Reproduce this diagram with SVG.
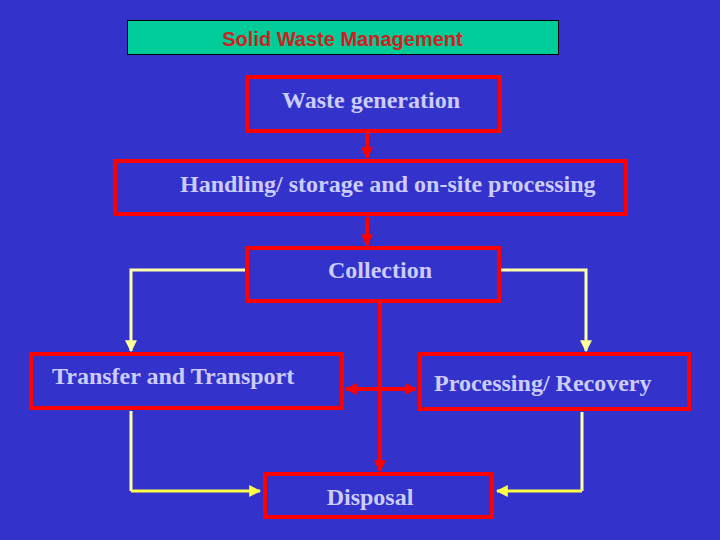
<svg xmlns="http://www.w3.org/2000/svg" width="720" height="540" viewBox="0 0 720 540">
<defs>
<marker id="ar" viewBox="0 0 10 10" refX="9" refY="5" markerWidth="3" markerHeight="3" orient="auto-start-reverse"><path d="M0,0 L10,5 L0,10 z" fill="#FF0000"/></marker>
<marker id="ay" viewBox="0 0 10 10" refX="9" refY="5" markerWidth="4" markerHeight="4" orient="auto"><path d="M0,0 L10,5 L0,10 z" fill="#FFFF99"/></marker>
<marker id="ay2" viewBox="0 0 10 10" refX="9" refY="5" markerWidth="4" markerHeight="4" orient="auto"><path d="M0,0 L10,5 L0,10 z" fill="#FFFF44"/></marker>
</defs>
<style>
.box{fill:#3333CC;stroke:#FF0000;stroke-width:4}
.t{font-family:"Liberation Serif",serif;font-weight:bold;font-size:24px;fill:#CCCCFF}
.red{stroke:#FF0000;stroke-width:4;fill:none}
.yl{stroke:#FFFFAA;stroke-width:3;fill:none}
.yh{stroke:#FFFF44;stroke-width:3;fill:none}
</style>
<rect width="720" height="540" fill="#3333CC"/>
<g id="title">
<rect x="127.5" y="20.5" width="431" height="34" fill="#00CC99" stroke="#000" stroke-width="1"/>
<text x="342.5" y="46" text-anchor="middle" font-family="Liberation Sans,Arial,sans-serif" font-weight="bold" font-size="20" fill="#CC2222">Solid Waste Management</text>
</g>
<g id="connectors">
<line class="red" x1="367" y1="133" x2="367" y2="158" marker-end="url(#ar)"/>
<line class="red" x1="367" y1="217" x2="367" y2="245" marker-end="url(#ar)"/>
<line class="red" x1="380" y1="303" x2="380" y2="471" marker-end="url(#ar)"/>
<line class="red" x1="346" y1="389" x2="416" y2="389" marker-start="url(#ar)" marker-end="url(#ar)"/>
<polyline class="yl" points="245,270 131,270 131,351" marker-end="url(#ay)"/>
<polyline class="yl" points="501,270 586,270 586,351" marker-end="url(#ay)"/>
<polyline class="yl" points="131,411 131,491"/>
<line class="yh" x1="131" y1="491" x2="260" y2="491" marker-end="url(#ay2)"/>
<polyline class="yl" points="582,412 582,491"/>
<line class="yh" x1="582" y1="491" x2="497" y2="491" marker-end="url(#ay2)"/>
</g>
<g id="waste-generation">
<rect class="box" x="247" y="77" width="253" height="54"/>
<text class="t" x="371" y="108" text-anchor="middle">Waste generation</text>
</g>
<g id="handling">
<rect class="box" x="115" y="161" width="511" height="53"/>
<text class="t" x="180" y="192">Handling/ storage and on-site processing</text>
</g>
<g id="collection">
<rect class="box" x="247" y="248" width="252" height="53"/>
<text class="t" x="380" y="278" text-anchor="middle">Collection</text>
</g>
<g id="transfer">
<rect class="box" x="31" y="354" width="311" height="54"/>
<text class="t" x="52" y="384">Transfer and Transport</text>
</g>
<g id="processing">
<rect class="box" x="420" y="354" width="269" height="55"/>
<text class="t" x="434" y="391">Processing/ Recovery</text>
</g>
<g id="disposal">
<rect class="box" x="265" y="474" width="227" height="43"/>
<text class="t" x="370" y="505" text-anchor="middle">Disposal</text>
</g>
</svg>
